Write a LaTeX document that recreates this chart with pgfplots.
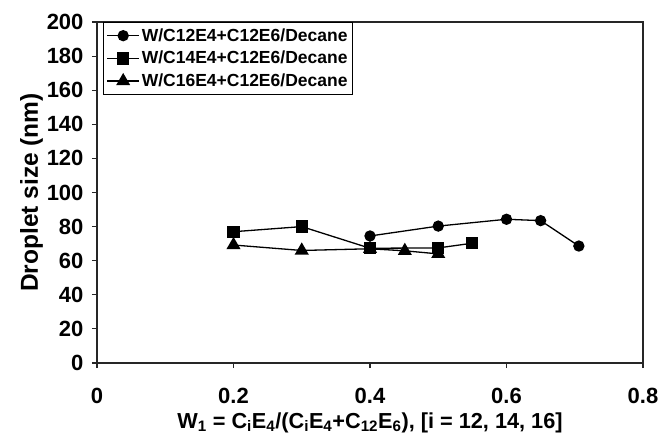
\documentclass[border=0pt]{standalone}
\usepackage{fontspec}
\setmainfont{Liberation Sans}
\usepackage{pgfplots}
\pgfplotsset{compat=1.18}

\begin{document}
\begin{tikzpicture}
\begin{axis}[
  width=546pt, height=341pt, scale only axis,
  xmin=0, xmax=0.8, ymin=0, ymax=200,
  xtick={0,0.2,0.4,0.6,0.8}, ytick={0,20,40,60,80,100,120,140,160,180,200},
  tick align=outside, tick pos=left, major tick length=5pt,
  axis line style={line width=1.3pt, black!85},
  major tick style={line width=1.1pt, black!85},
  /pgf/number format/assume math mode=true,
  x tick label style={/pgf/number format/fixed, /pgf/number format/precision=1, anchor=base, yshift=-35pt},
  y tick label style={xshift=-5pt},
  tick label style={font=\fontsize{22}{25}\selectfont\bfseries},
  xlabel={W\textsubscript{1} = C\textsubscript{i}E\textsubscript{4}/(C\textsubscript{i}E\textsubscript{4}+C\textsubscript{12}E\textsubscript{6}), [i = 12, 14, 16]},
  ylabel={Droplet size (nm)},
  xlabel style={font=\fontsize{21.7}{24}\selectfont\bfseries, at={(axis description cs:0.5,0)}, anchor=base, yshift=-65pt},
  ylabel style={font=\fontsize{24.5}{26}\selectfont\bfseries, yshift=-3pt},
  legend style={at={(6pt,341pt)}, anchor=north west, draw=black, line width=1.2pt,
    font=\fontsize{17.5}{19}\selectfont\bfseries, row sep=4.5pt, inner xsep=3pt, inner ysep=4pt,
    legend cell align=left},
  legend image code/.code={
    \draw[line width=1.2pt] (0pt,0pt) -- (32pt,0pt);
    \draw plot coordinates {(16pt,0pt)};
  },
  every axis plot/.append style={black, line width=1.3pt, mark options={solid, fill=black}},
]
\addplot[mark=*, mark size=5pt] coordinates {(0.4,74.5) (0.5,80.3) (0.6,84.3) (0.65,83.5) (0.706,68.6)};
\addlegendentry{W/C12E4+C12E6/Decane}
\addplot[mark=square*, mark size=5.5pt] coordinates {(0.2,77) (0.3,80) (0.4,67.3) (0.5,67.5) (0.549,70.2)};
\addlegendentry{W/C14E4+C12E6/Decane}
\addplot[mark=triangle*, mark size=6.8pt] coordinates {(0.2,69.2) (0.3,66) (0.4,67) (0.451,65.8) (0.5,64)};
\addlegendentry{W/C16E4+C12E6/Decane}
\end{axis}
\pgfresetboundingbox
\path ([shift={(-97pt,-73pt)}]current axis.south west) rectangle ([shift={(17pt,22pt)}]current axis.north east);
\end{tikzpicture}
\end{document}
